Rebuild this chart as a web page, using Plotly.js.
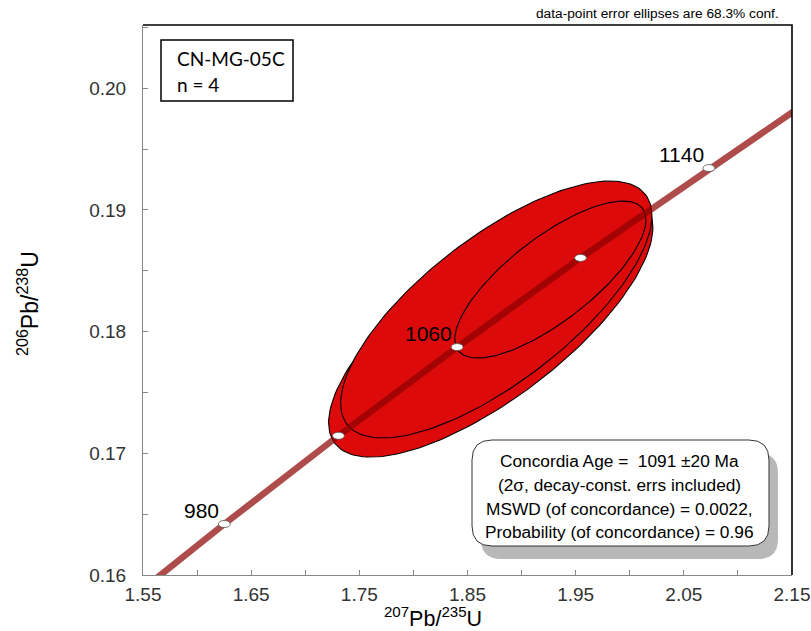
<!DOCTYPE html>
<html>
<head>
<meta charset="utf-8">
<script src="https://cdn.plot.ly/plotly-3.0.1.min.js"></script>
<style>html,body{margin:0;padding:0;background:#fff;}#chart{width:811px;height:631px;}</style>
</head>
<body>
<div id="chart"></div>
<script>
// Concordia curve points (age in Ma, 207Pb/235U, 206Pb/238U)
const concAge = [940, 980, 1020, 1060, 1100, 1140, 1180];
const concX = [1.52378, 1.62519, 1.73067, 1.84039, 1.95452, 2.07322, 2.19673];
const concY = [0.15699, 0.16419, 0.17144, 0.17873, 0.18606, 0.19344, 0.20087];
// Age tick marks on the concordia
const markAge = [980, 1020, 1060, 1100, 1140];
const markX = [1.62519, 1.73067, 1.84039, 1.95452, 2.07322];
const markY = [0.16419, 0.17144, 0.17873, 0.18606, 0.19344];
const labelAge = [980, 1060, 1140];
const labelX = [1.62519, 1.84039, 2.07322];
const labelY = [0.16419, 0.17873, 0.19344];
// Data-point error ellipses (centre, half-widths, error correlation)
const ellX = [1.8720, 1.8715, 1.8766, 1.9266];
const ellY = [0.18060, 0.18054, 0.18182, 0.18428];
const ellSX = [0.1250, 0.1499, 0.1439, 0.08836];
const ellSY = [0.00920, 0.01085, 0.01056, 0.00645];
const ellRho = [0.75, 0.74, 0.73, 0.76];
// Axis ticks
const xTicks = [1.55, 1.65, 1.75, 1.85, 1.95, 2.05, 2.15];
const yTicks = [0.16, 0.17, 0.18, 0.19, 0.20];
// Texts
const sampleLines = ["CN-MG-05C", "n = 4"];
const statLines = ["Concordia Age =  1091 ±20 Ma", "(2σ, decay-const. errs included)", "MSWD (of concordance) = 0.0022,", "Probability (of concordance) = 0.96"];
const noteText = "data-point error ellipses are 68.3% conf.";

const W = 811, H = 631;
const M = {l: 143, r: 19, t: 25, b: 56};
const PW = W - M.l - M.r, PH = H - M.t - M.b;
const px2x = px => (px - M.l) / PW;
const py2y = py => (H - M.b - py) / PH;
const FONT = "Liberation Sans, Arial, sans-serif";

function ellipse(cx, cy, sx, sy, rho) {
  const xs = [], ys = [];
  const s = Math.sqrt(1 - rho * rho);
  for (let i = 0; i <= 180; i++) {
    const t = 2 * Math.PI * i / 180;
    xs.push(cx + sx * Math.cos(t));
    ys.push(cy + sy * (rho * Math.cos(t) + s * Math.sin(t)));
  }
  return {xs, ys};
}

const traces = [];
for (let i = 0; i < ellX.length; i++) {
  const e = ellipse(ellX[i], ellY[i], ellSX[i], ellSY[i], ellRho[i]);
  traces.push({x: e.xs, y: e.ys, type: 'scatter', mode: 'lines', fill: 'toself',
    fillcolor: '#DC0A0A', line: {color: '#000', width: 1.1}, hoverinfo: 'skip', showlegend: false});
}
traces.push({x: concX, y: concY, type: 'scatter', mode: 'lines',
  line: {color: 'rgba(140,0,0,0.7)', width: 6.5}, hoverinfo: 'skip', showlegend: false});

const shapes = [];
// top & right frame
shapes.push({type: 'path', xref: 'paper', yref: 'paper', path: 'M 0,1 L 1,1 L 1,0',
  line: {color: '#000', width: 1.6}, layer: 'above'});
// age markers
for (let i = 0; i < markX.length; i++) {
  shapes.push({type: 'circle', xref: 'x', yref: 'y', xsizemode: 'pixel', ysizemode: 'pixel',
    xanchor: markX[i], yanchor: markY[i], x0: -6, x1: 6, y0: -3.5, y1: 3.5,
    fillcolor: '#fff', line: {color: '#555', width: 0.8}, layer: 'above'});
}
function rr(x0, y0, x1, y1, r) {
  return `M ${x0 + r},${y0} L ${x1 - r},${y0} Q ${x1},${y0} ${x1},${y0 + r} L ${x1},${y1 - r} Q ${x1},${y1} ${x1 - r},${y1} L ${x0 + r},${y1} Q ${x0},${y1} ${x0},${y1 - r} L ${x0},${y0 + r} Q ${x0},${y0} ${x0 + r},${y0} Z`;
}
// stats box (pixel offsets from plot bottom-left, y up)
const bx0 = 472 - M.l, bx1 = 769 - M.l, by0 = (H - M.b) - 546, by1 = (H - M.b) - 440;
shapes.push({type: 'path', xref: 'paper', yref: 'paper', xsizemode: 'pixel', ysizemode: 'pixel',
  xanchor: 0, yanchor: 0, path: rr(bx0 + 9, by0 - 13, bx1 + 9, by1 - 13, 20),
  fillcolor: '#b8b8b8', line: {width: 0}, layer: 'above'});
shapes.push({type: 'path', xref: 'paper', yref: 'paper', xsizemode: 'pixel', ysizemode: 'pixel',
  xanchor: 0, yanchor: 0, path: rr(bx0, by0, bx1, by1, 20),
  fillcolor: '#fff', line: {color: '#333', width: 1}, layer: 'above'});
// sample box
shapes.push({type: 'rect', xref: 'paper', yref: 'paper', x0: px2x(161), x1: px2x(293), y0: py2y(101), y1: py2y(40),
  fillcolor: '#fff', line: {color: '#000', width: 1.5}, layer: 'above'});

const annotations = [];
for (let i = 0; i < labelX.length; i++) {
  annotations.push({x: labelX[i], y: labelY[i], xref: 'x', yref: 'y', text: String(labelAge[i]),
    showarrow: false, xanchor: 'right', yanchor: 'middle', xshift: -3, yshift: 14,
    font: {family: FONT, size: 21, color: '#000'}});
}
const sampleY = [58, 84];
sampleLines.forEach((t, i) => annotations.push({x: px2x(175), y: py2y(sampleY[i]), xref: 'paper', yref: 'paper',
  text: t, showarrow: false, xanchor: 'left', yanchor: 'middle', font: {family: 'Lato, sans-serif', size: 19, color: '#000'}}));
const statY = [461, 485, 509, 532];
statLines.forEach((t, i) => annotations.push({x: px2x(619), y: py2y(statY[i]), xref: 'paper', yref: 'paper',
  text: t, showarrow: false, xanchor: 'center', yanchor: 'middle', font: {family: FONT, size: 17.3, color: '#000'}}));
annotations.push({x: px2x(781), y: py2y(14), xref: 'paper', yref: 'paper', text: noteText, showarrow: false,
  xanchor: 'right', yanchor: 'middle', font: {family: FONT, size: 13.7, color: '#000'}});
annotations.push({x: px2x(433), y: py2y(617), xref: 'paper', yref: 'paper',
  text: '<sup>207</sup>Pb/<sup>235</sup>U', showarrow: false, xanchor: 'center', yanchor: 'middle',
  font: {family: FONT, size: 21.5, color: '#000'}, borderpad: 0});
annotations.push({x: px2x(28), y: py2y(304), xref: 'paper', yref: 'paper',
  text: '<sup>206</sup>Pb/<sup>238</sup>U', showarrow: false, xanchor: 'center', yanchor: 'middle', textangle: -90,
  font: {family: FONT, size: 23, color: '#000'}});

const layout = {
  width: W, height: H, margin: M, paper_bgcolor: '#fff', plot_bgcolor: '#fff', showlegend: false,
  xaxis: {range: [1.55, 2.15], tickmode: 'array', tickvals: xTicks, ticktext: xTicks.map(v => v.toFixed(2)),
    ticks: 'inside', ticklen: 5, tickcolor: '#888', showgrid: false, zeroline: false,
    showline: true, linecolor: '#888', linewidth: 1,
    minor: {dtick: 0.05, tick0: 1.55, ticks: 'inside', ticklen: 5, tickcolor: '#888', showgrid: false},
    tickfont: {family: FONT, size: 19, color: '#333'}, ticklabelstandoff: 2, fixedrange: true},
  yaxis: {range: [0.16, 0.2052], tickmode: 'array', tickvals: yTicks, ticktext: yTicks.map(v => v.toFixed(2)),
    ticks: 'inside', ticklen: 5, tickcolor: '#888', showgrid: false, zeroline: false,
    showline: true, linecolor: '#888', linewidth: 1,
    minor: {dtick: 0.005, tick0: 0.16, ticks: 'inside', ticklen: 5, tickcolor: '#888', showgrid: false},
    tickfont: {family: FONT, size: 19, color: '#333'}, ticklabelstandoff: 12, fixedrange: true},
  shapes, annotations
};
Plotly.newPlot('chart', traces, layout, {displayModeBar: false, staticPlot: true});
</script>
</body>
</html>
